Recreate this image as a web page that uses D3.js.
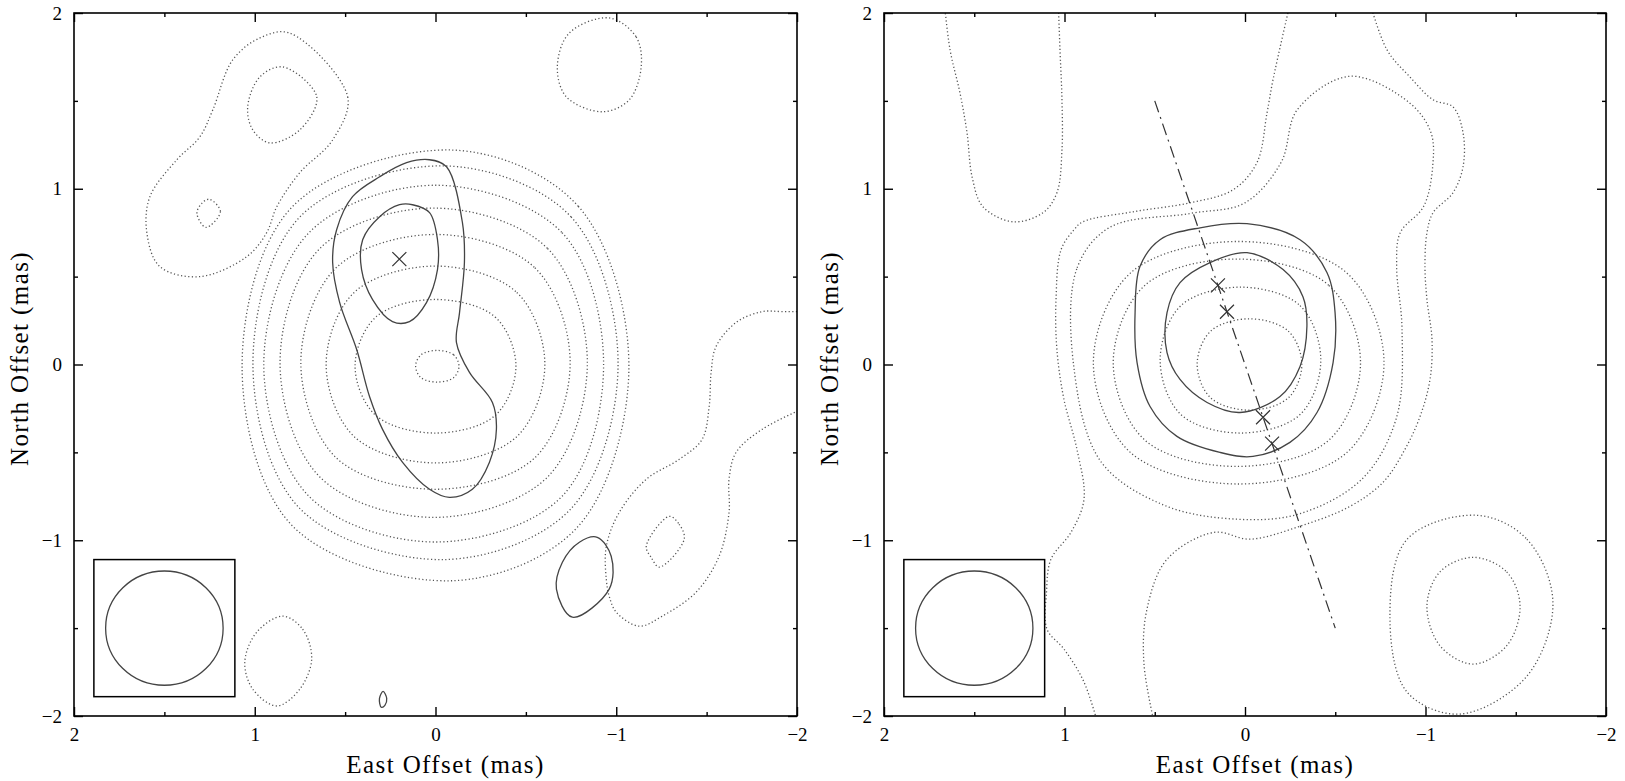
<!DOCTYPE html>
<html>
<head>
<meta charset="utf-8">
<title>VLBI contour maps</title>
<style>
  body { margin: 0; background: #fff; }
  svg { display: block; }
  .frame { fill: none; stroke: #000; stroke-width: 1.6; }
  .axis line { stroke: #000; stroke-width: 1.4; }
  .axis text { font-family: "Liberation Serif", "DejaVu Serif", serif; font-size: 19px; fill: #000; }
  .title { font-family: "Liberation Serif", "DejaVu Serif", serif; font-size: 25px; letter-spacing: 1.4px; fill: #000; }
  .dot { fill: none; stroke: #555; stroke-width: 1.3; stroke-dasharray: 1.2 2.4; }
  .solid { fill: none; stroke: #444; stroke-width: 1.3; }
  .cross { fill: none; stroke: #333; stroke-width: 1.2; }
  .jet { fill: none; stroke: #333; stroke-width: 1.2; stroke-dasharray: 12 5 2 5; }
  .beambox { fill: #fff; stroke: #000; stroke-width: 1.5; }
  .beam { fill: none; stroke: #444; stroke-width: 1.3; }
</style>
</head>
<body>
<script src="https://d3js.org/d3.v7.min.js"></script>
<script>
// ---- axes ----
var majorTicks = [2, 1, 0, -1, -2];
var minorTicks = [1.5, 0.5, -0.5, -1.5];
var xTitle = "East Offset (mas)";
var yTitle = "North Offset (mas)";
var beamCentre = [1.5, -1.5], beamRadius = 0.325, beamBoxHalf = 0.39;

// ---- left map (contours as [east, north] in mas) ----
var leftDotted = [
  [[-0.01,0.08],[-0.10,0.055],[-0.13,-0.01],[-0.10,-0.075],[-0.01,-0.10],[0.08,-0.075],[0.11,-0.01],[0.08,0.055]],
  [[0,0.37],[-0.33,0.27],[-0.445,-0.01],[-0.33,-0.29],[0,-0.39],[0.33,-0.29],[0.445,-0.01],[0.33,0.27]],
  [[0,0.56],[-0.45,0.41],[-0.605,0],[-0.45,-0.41],[0,-0.56],[0.45,-0.41],[0.605,0],[0.45,0.41]],
  [[0,0.74],[-0.55,0.55],[-0.745,0.01],[-0.55,-0.53],[0,-0.71],[0.55,-0.53],[0.745,0.01],[0.55,0.55]],
  [[0.01,0.89],[-0.62,0.66],[-0.84,0.01],[-0.62,-0.64],[0.01,-0.87],[0.64,-0.64],[0.86,0.01],[0.64,0.66]],
  [[0,1.02],[-0.70,0.75],[-0.93,0],[-0.70,-0.75],[0,-1.01],[0.70,-0.75],[0.95,0],[0.70,0.75]],
  [[-0.05,1.13],[-0.75,0.84],[-1.01,0],[-0.75,-0.82],[-0.05,-1.11],[0.75,-0.82],[1.01,0],[0.75,0.84]],
  [[-0.1,1.22],[-0.79,0.9],[-1.07,-0.01],[-0.79,-0.92],[-0.1,-1.23],[0.79,-0.92],[1.07,-0.01],[0.79,0.9]],
  // north-west blob
  [[0.807,1.886],[0.486,1.523],[0.569,1.278],[0.751,1.091],[0.878,0.898],[0.934,0.75],[1.044,0.614],[1.304,0.5],
   [1.525,0.557],[1.597,0.75],[1.58,0.955],[1.431,1.165],[1.304,1.295],[1.232,1.449],[1.122,1.733],[0.972,1.858]],
  [[0.845,1.693],[0.657,1.523],[0.751,1.335],[0.917,1.261],[1.011,1.335],[1.039,1.466],[0.972,1.636]],
  [[1.25,0.94],[1.19,0.87],[1.27,0.78],[1.32,0.86],[1.29,0.92]],
  // top right
  [[-0.961,1.972],[-1.11,1.864],[-1.138,1.693],[-1.072,1.506],[-0.923,1.438],[-0.724,1.523],[-0.674,1.693],[-0.74,1.886]],
  // bottom left
  [[0.845,-1.432],[0.735,-1.506],[0.685,-1.676],[0.751,-1.847],[0.878,-1.943],[1.011,-1.847],[1.055,-1.693],[0.989,-1.523]],
  // south-east small
  [[-1.293,-0.864],[-1.348,-0.909],[-1.376,-0.994],[-1.238,-1.153],[-1.193,-1.097],[-1.166,-1.034]]
];
var leftDottedOpen = [
  [[-2.1,0.30],[-1.917,0.301],[-1.807,0.301],[-1.663,0.239],[-1.552,0.102],[-1.525,-0.045],[-1.514,-0.239],
   [-1.475,-0.426],[-1.348,-0.54],[-1.166,-0.653],[-1.017,-0.841],[-0.945,-1.034],[-0.945,-1.222],[-0.961,-1.318],
   [-1.0,-1.409],[-1.127,-1.489],[-1.254,-1.432],[-1.442,-1.295],[-1.569,-1.091],[-1.624,-0.841],[-1.624,-0.653],
   [-1.663,-0.5],[-1.807,-0.369],[-2.1,-0.22]]
];
var leftSolid = [
  [[0.033,1.165],[-0.061,1.125],[-0.149,0.807],[-0.16,0.58],[-0.133,0.295],[-0.116,0.125],[-0.188,-0.045],
   [-0.315,-0.216],[-0.337,-0.369],[-0.298,-0.557],[-0.204,-0.71],[-0.077,-0.756],[0.033,-0.71],[0.182,-0.557],
   [0.293,-0.369],[0.365,-0.182],[0.436,0.085],[0.53,0.352],[0.569,0.58],[0.547,0.767],[0.459,0.955],[0.309,1.068],[0.16,1.148]],
  [[0.127,0.909],[0.033,0.864],[-0.011,0.71],[-0.011,0.54],[0.05,0.352],[0.144,0.244],[0.238,0.244],
   [0.348,0.369],[0.409,0.54],[0.403,0.71],[0.309,0.841],[0.199,0.909]],
  [[-0.895,-0.983],[-0.972,-1.091],[-0.961,-1.278],[-0.757,-1.438],[-0.669,-1.278],[-0.702,-1.125],[-0.796,-1.011]],
  [[0.29,-1.86],[0.27,-1.9],[0.28,-1.94],[0.30,-1.95],[0.31,-1.9]]
];
var leftCrosses = [[0.2, 0.6]];

// ---- right map ----
var rightDotted = [
  [[-0.025,0.26],[-0.24,0.19],[-0.315,0],[-0.24,-0.19],[-0.025,-0.26],[0.19,-0.19],[0.265,0],[0.19,0.19]],
  [[0.025,0.44],[-0.305,0.335],[-0.42,0.025],[-0.305,-0.285],[0.025,-0.39],[0.355,-0.285],[0.47,0.025],[0.355,0.335]],
  [[0.045,0.60],[-0.465,0.45],[-0.64,0.01],[-0.465,-0.43],[0.045,-0.58],[0.555,-0.43],[0.73,0.01],[0.555,0.45]],
  [[0.035,0.70],[-0.565,0.52],[-0.77,0.01],[-0.565,-0.50],[0.035,-0.68],[0.635,-0.50],[0.84,0.01],[0.635,0.52]],
  [[0.95,0.0],[0.93,0.55],[0.75,0.78],[0.3,0.86],[0.0,0.92],[-0.2,1.15],[-0.29,1.45],[-0.58,1.64],[-0.91,1.49],
   [-1.03,1.32],[-1.04,1.13],[-0.99,0.90],[-0.86,0.75],[-0.84,0.56],[-0.87,0.2],[-0.84,-0.3],[-0.65,-0.65],
   [-0.3,-0.85],[0.05,-0.88],[0.45,-0.8],[0.8,-0.55]],
  // south-west pair
  [[-1.263,-1.097],[-1.45,-1.18],[-1.524,-1.375],[-1.45,-1.6],[-1.263,-1.705],[-1.08,-1.6],[-1.008,-1.375],[-1.08,-1.18]],
  [[-1.285,-0.858],[-1.562,-0.994],[-1.706,-1.352],[-1.562,-1.773],[-1.191,-1.989],[-0.898,-1.864],[-0.803,-1.432],[-0.898,-0.994]]
];
var rightDottedOpen = [
  [[1.67,2.1],[1.634,1.79],[1.579,1.545],[1.54,1.318],[1.512,1.068],[1.452,0.898],[1.285,0.812],[1.119,0.864],
   [1.042,0.977],[1.014,1.222],[1.014,1.506],[1.025,1.79],[1.036,2.1]],
  [[-0.26,2.1],[-0.155,1.619],[-0.122,1.432],[-0.066,1.148],[0.066,0.994],[0.305,0.92],[0.62,0.869],[0.898,0.812],
   [0.947,0.767],[1.019,0.653],[1.047,0.369],[1.042,0.085],[1.003,-0.199],[0.931,-0.483],[0.892,-0.767],[0.964,-0.955],
   [1.075,-1.108],[1.10,-1.30],[1.097,-1.506],[1.003,-1.619],[0.892,-1.807],[0.80,-2.1]],
  [[-0.68,2.1],[-0.787,1.79],[-0.914,1.636],[-1.042,1.506],[-1.152,1.466],[-1.208,1.318],[-1.208,1.125],[-1.152,0.977],
   [-1.042,0.864],[-1.008,0.75],[-0.997,0.557],[-1.008,0.369],[-1.036,0.142],[-1.025,-0.085],[-0.97,-0.295],
   [-0.886,-0.483],[-0.765,-0.67],[-0.582,-0.807],[-0.305,-0.92],[-0.028,-0.994],[0.172,-0.955],[0.432,-1.108],
   [0.543,-1.392],[0.56,-1.7],[0.49,-2.1]]
];
var rightSolid = [
  [[-0.011,0.801],[-0.305,0.71],[-0.454,0.523],[-0.499,0.295],[-0.488,0.011],[-0.399,-0.273],[-0.249,-0.443],
   [-0.044,-0.523],[0.139,-0.5],[0.377,-0.409],[0.526,-0.239],[0.598,0.011],[0.609,0.295],[0.582,0.557],[0.471,0.71],[0.249,0.778]],
  [[-0.011,0.636],[-0.211,0.54],[-0.321,0.386],[-0.343,0.216],[-0.305,-0.011],[-0.194,-0.182],[0.028,-0.273],
   [0.21,-0.216],[0.36,-0.085],[0.432,0.068],[0.432,0.295],[0.36,0.466],[0.194,0.58]]
];
var rightCrosses = [[0.15, 0.45], [0.10, 0.30], [-0.10, -0.30], [-0.15, -0.45]];
var jetLine = [[0.5, 1.5], [-0.5, -1.5]];

var svg = d3.select("body").append("svg").attr("width", 1625).attr("height", 781);

function drawPanel(id, box, maps) {
  var x = d3.scaleLinear().domain([2, -2]).range([box.x0, box.x1]);
  var y = d3.scaleLinear().domain([2, -2]).range([box.y0, box.y1]);
  var g = svg.append("g");

  g.append("clipPath").attr("id", id)
    .append("rect").attr("x", box.x0).attr("y", box.y0)
    .attr("width", box.x1 - box.x0).attr("height", box.y1 - box.y0);
  var c = g.append("g").attr("clip-path", "url(#" + id + ")");

  var closed = d3.line().x(function(d) { return x(d[0]); }).y(function(d) { return y(d[1]); })
    .curve(d3.curveCatmullRomClosed.alpha(0.5));
  var open = d3.line().x(function(d) { return x(d[0]); }).y(function(d) { return y(d[1]); })
    .curve(d3.curveCatmullRom.alpha(0.5));

  c.selectAll(".d1").data(maps.dotted).enter().append("path").attr("class", "dot").attr("d", closed);
  c.selectAll(".d2").data(maps.dottedOpen).enter().append("path").attr("class", "dot").attr("d", open);
  c.selectAll(".s1").data(maps.solid).enter().append("path").attr("class", "solid").attr("d", closed);

  if (maps.jet) {
    c.append("path").attr("class", "jet").attr("d", d3.line().x(function(d) { return x(d[0]); }).y(function(d) { return y(d[1]); })(maps.jet));
  }
  var s = maps.crossSize;
  c.selectAll(".cr").data(maps.crosses).enter().append("path").attr("class", "cross")
    .attr("d", function(d) {
      var px = x(d[0]), py = y(d[1]);
      return "M" + (px - s) + "," + (py - s) + "L" + (px + s) + "," + (py + s) +
             "M" + (px - s) + "," + (py + s) + "L" + (px + s) + "," + (py - s);
    });

  // beam
  g.append("rect").attr("class", "beambox")
    .attr("x", x(beamCentre[0] + beamBoxHalf)).attr("y", y(beamCentre[1] + beamBoxHalf))
    .attr("width", x(beamCentre[0] - beamBoxHalf) - x(beamCentre[0] + beamBoxHalf))
    .attr("height", y(beamCentre[1] - beamBoxHalf) - y(beamCentre[1] + beamBoxHalf));
  g.append("ellipse").attr("class", "beam")
    .attr("cx", x(beamCentre[0])).attr("cy", y(beamCentre[1]))
    .attr("rx", x(0) - x(beamRadius)).attr("ry", y(0) - y(beamRadius));

  // axes: ticks inward on all sides
  function ax(axis, tx, ty, ticks, size, labels) {
    var a = axis.tickValues(ticks).tickSizeInner(-size).tickSizeOuter(0).tickPadding(12);
    a.tickFormat(labels ? d3.format("d") : "");
    var ag = g.append("g").attr("class", "axis").attr("transform", "translate(" + tx + "," + ty + ")").call(a);
    ag.select(".domain").remove();
    return ag;
  }
  ax(d3.axisBottom(x), 0, box.y1, majorTicks, 9, true);
  ax(d3.axisBottom(x), 0, box.y1, minorTicks, 4, false);
  ax(d3.axisTop(x), 0, box.y0, majorTicks, 9, false);
  ax(d3.axisTop(x), 0, box.y0, minorTicks, 4, false);
  ax(d3.axisLeft(y), box.x0, 0, majorTicks, 9, true);
  ax(d3.axisLeft(y), box.x0, 0, minorTicks, 4, false);
  ax(d3.axisRight(y), box.x1, 0, majorTicks, 9, false);
  ax(d3.axisRight(y), box.x1, 0, minorTicks, 4, false);

  g.append("rect").attr("class", "frame").attr("x", box.x0).attr("y", box.y0)
    .attr("width", box.x1 - box.x0).attr("height", box.y1 - box.y0);

  g.append("text").attr("class", "title").attr("text-anchor", "middle")
    .attr("x", (box.x0 + box.x1) / 2 + 10).attr("y", 773).text(xTitle);
  g.append("text").attr("class", "title").attr("text-anchor", "middle")
    .attr("transform", "translate(" + (box.x0 - 46) + "," + ((box.y0 + box.y1) / 2 - 6) + ") rotate(-90)")
    .text(yTitle);
}

drawPanel("clipL", {x0: 74, x1: 797, y0: 13, y1: 716},
  {dotted: leftDotted, dottedOpen: leftDottedOpen, solid: leftSolid, crosses: leftCrosses, crossSize: 7});
drawPanel("clipR", {x0: 884, x1: 1606, y0: 13, y1: 716},
  {dotted: rightDotted, dottedOpen: rightDottedOpen, solid: rightSolid, crosses: rightCrosses, crossSize: 7, jet: jetLine});
</script>
</body>
</html>
